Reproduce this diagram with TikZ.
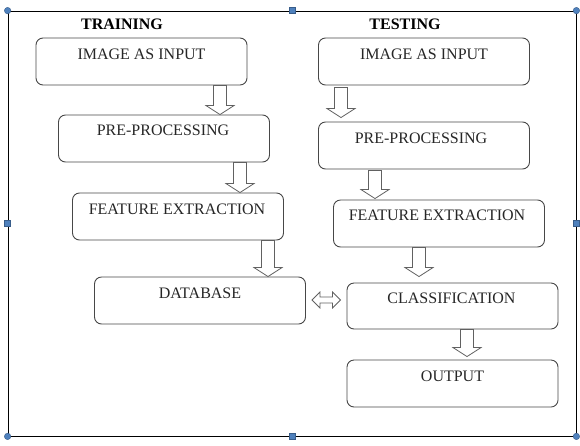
\documentclass[tikz,border=0pt]{standalone}
\usepackage{fontspec}
\setmainfont{Liberation Serif}
\usetikzlibrary{calc}
\definecolor{handle}{HTML}{4F81BD}
\definecolor{handleedge}{HTML}{385D8A}
\tikzset{
  box/.style={draw=black!72, line width=0.9pt, rounded corners=7pt,
    minimum width=211pt, minimum height=47pt, inner sep=0pt},
  lbl/.style={anchor=base, font=\fontsize{16}{19}\selectfont, inner sep=0pt, text=black!85},
  ttl/.style={anchor=base, font=\fontsize{16}{19}\selectfont\bfseries, inner sep=0pt},
  barr/.style={draw=black!62, line width=0.8pt, fill=white, line join=miter},
  frm/.style={draw=black, line width=0.8pt, minimum width=568pt, minimum height=425pt, inner sep=0pt},
  handsq/.style={draw=handleedge, fill=handle, line width=0.4pt, minimum size=6pt, inner sep=0pt},
  handci/.style={circle, draw=handleedge, fill=handle, line width=0.4pt, minimum size=6.5pt, inner sep=0pt}
}
% x, from node, to node, extra gap below source, gap above target tip
\newcommand\blkarrow[5]{%
  \draw[barr] let \p1=(#2.south), \p2=(#3.north) in
    (#1pt-6.5pt,\y1-#4pt) -- (#1pt+6.5pt,\y1-#4pt) -- (#1pt+6.5pt,\y2+#5pt+9pt)
    -- (#1pt+14pt,\y2+#5pt+9pt) -- (#1pt,\y2+#5pt) -- (#1pt-14pt,\y2+#5pt+9pt)
    -- (#1pt-6.5pt,\y2+#5pt+9pt) -- cycle;}
\begin{document}
\begin{tikzpicture}[x=1pt,y=-1pt]
\useasboundingbox (0,0) rectangle (580,445);
% frame
\node[frm] (frame) at (292,223.5) {};
% handles
\node[handci] (h1) at (frame.north west) {};
\node[handsq] (h2) at (frame.north) {};
\node[handci] (h3) at (frame.north east) {};
\node[handsq] (h4) at (frame.west) {};
\node[handsq] (h5) at (frame.east) {};
\node[handci] (h6) at (frame.south west) {};
\node[handsq] (h7) at (frame.south) {};
\node[handci] (h8) at (frame.south east) {};
% titles
\node[ttl] (ttrain) at (122,29.5) {TRAINING};
\node[ttl] (ttest) at (405,29.5) {TESTING};
% training boxes
\node[box] (imgL) at (141.5,61.5) {};
\node[box] (preL) at (164,138.5) {};
\node[box] (feL) at (178,216.5) {};
\node[box] (db) at (200,300.5) {};
% testing boxes
\node[box] (imgR) at (424,61.5) {};
\node[box] (preR) at (424,145.5) {};
\node[box] (feR) at (439,223.5) {};
\node[box, minimum height=46pt] (cls) at (452.5,306) {};
\node[box] (out) at (452.5,383.5) {};
% labels
\node[lbl] (timgL) at ($(imgL.north)+(0,21.5)$) {IMAGE AS INPUT};
\node[lbl] (tpreL) at ($(preL.north)+(-1,20.5)$) {PRE-PROCESSING};
\node[lbl] (tfeL) at ($(feL.north)+(-1,21.5)$) {FEATURE EXTRACTION};
\node[lbl] (tdb) at ($(db.north)+(0,21.5)$) {DATABASE};
\node[lbl] (timgR) at ($(imgR.north)+(0,21.5)$) {IMAGE AS INPUT};
\node[lbl] (tpreR) at ($(preR.north)+(-3,21.5)$) {PRE-PROCESSING};
\node[lbl] (tfeR) at ($(feR.north)+(-2,20.5)$) {FEATURE EXTRACTION};
\node[lbl] (tcls) at ($(cls.north)+(-1,20.5)$) {CLASSIFICATION};
\node[lbl] (tout) at ($(out.north)+(0,21.5)$) {OUTPUT};
% block arrows
\blkarrow{220}{imgL}{preL}{0}{0}
\blkarrow{240}{preL}{feL}{0}{0}
\blkarrow{268}{feL}{db}{0}{0}
\blkarrow{341}{imgR}{preR}{2}{4}
\blkarrow{375}{preR}{feR}{1}{1}
\blkarrow{419}{feR}{cls}{0}{6}
\blkarrow{467}{cls}{out}{0}{3}
% double arrow
\draw[barr] let \p1=(db.east), \p2=(cls.west) in
  (\x1+6pt,-300pt) -- (\x1+14pt,-292pt) -- (\x1+14pt,-297pt) -- (\x2-14pt,-297pt)
  -- (\x2-14pt,-292pt) -- (\x2-6pt,-300pt) -- (\x2-14pt,-308pt) -- (\x2-14pt,-303pt)
  -- (\x1+14pt,-303pt) -- (\x1+14pt,-308pt) -- cycle;
\end{tikzpicture}
\end{document}
